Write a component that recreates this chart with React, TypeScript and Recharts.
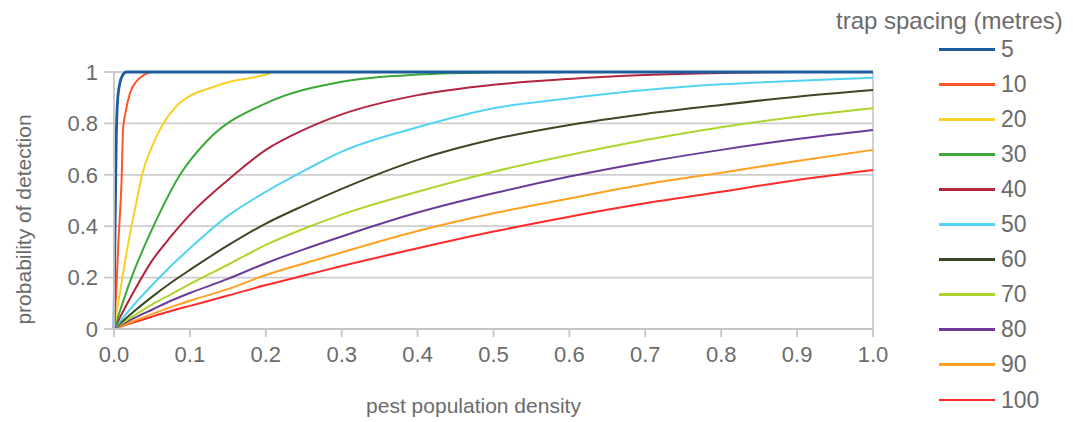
import { LineChart, Line, XAxis, YAxis, CartesianGrid, ReferenceLine } from "recharts";

// trap spacing in metres, legend order
const spacings = ["5", "10", "20", "30", "40", "50", "60", "70", "80", "90", "100"];

// pest population density (x) for each curve
const x5 = [0, 0.001, 0.003, 0.005, 0.008, 0.012, 0.016, 1.0];
const p5 = [0, 0.3, 0.75, 0.9, 0.96, 0.99, 1, 1];

const x10 = [0, 0.003, 0.006, 0.01, 0.012, 0.015, 0.021, 0.03, 0.04, 0.052, 1.0];
const p10 = [0, 0.15, 0.35, 0.58, 0.78, 0.84, 0.917, 0.965, 0.99, 1, 1];

const x20 = [0, 0.005, 0.011, 0.023, 0.03, 0.037, 0.05, 0.065, 0.08, 0.1, 0.126, 0.15, 0.2, 0.21, 1.0];
const p20 = [0, 0.09, 0.2, 0.4, 0.5, 0.6, 0.71, 0.8, 0.86, 0.907, 0.937, 0.96, 0.99, 1, 1];

const x30 = [0, 0.023, 0.052, 0.087, 0.126, 0.2, 0.3, 0.4, 0.5, 0.6, 1.0];
const p30 = [0, 0.2, 0.4, 0.6, 0.742, 0.878, 0.962, 0.99, 0.998, 1, 1];

// slower curves share one x grid
const xWide = [0, 0.025, 0.05, 0.075, 0.1, 0.15, 0.2, 0.25, 0.3, 0.4, 0.5, 0.6, 0.7, 0.8, 0.9, 1.0];
const p40 = [0, 0.14, 0.265, 0.36, 0.445, 0.58, 0.697, 0.775, 0.835, 0.91, 0.95, 0.973, 0.988, 0.996, 1, 1];
const p50 = [0, 0.09, 0.17, 0.245, 0.314, 0.44, 0.534, 0.615, 0.69, 0.785, 0.859, 0.898, 0.93, 0.952, 0.966, 0.978];
const p60 = [0, 0.065, 0.125, 0.18, 0.23, 0.325, 0.41, 0.48, 0.545, 0.658, 0.738, 0.794, 0.837, 0.872, 0.904, 0.93];
const p70 = [0, 0.05, 0.095, 0.135, 0.175, 0.25, 0.327, 0.39, 0.445, 0.534, 0.612, 0.677, 0.735, 0.785, 0.826, 0.859];
const p80 = [0, 0.04, 0.075, 0.11, 0.14, 0.195, 0.256, 0.31, 0.36, 0.453, 0.528, 0.593, 0.649, 0.697, 0.739, 0.774];
const p90 = [0, 0.03, 0.058, 0.085, 0.11, 0.155, 0.21, 0.255, 0.298, 0.381, 0.45, 0.508, 0.563, 0.608, 0.654, 0.697];
const p100 = [0, 0.025, 0.048, 0.07, 0.09, 0.13, 0.171, 0.208, 0.245, 0.314, 0.379, 0.437, 0.489, 0.534, 0.58, 0.619];

const xTicks = [0, 0.1, 0.2, 0.3, 0.4, 0.5, 0.6, 0.7, 0.8, 0.9, 1.0];
const yTicks = [0, 0.2, 0.4, 0.6, 0.8, 1];

const lineColors = [
  "#1f5c9e", "#ff5526", "#f7d126", "#3aa935", "#b3243f", "#52d3f2",
  "#3a4826", "#add52c", "#6a3c98", "#ffa11f", "#ff2b2b",
];

const xs = [x5, x10, x20, x30, xWide, xWide, xWide, xWide, xWide, xWide, xWide];
const ps = [p5, p10, p20, p30, p40, p50, p60, p70, p80, p90, p100];

// one table: every x that any curve was read at, with that curve's value where it has one
const allX = Array.from(new Set(xs.flat())).sort((a, b) => a - b);
const rows = allX.map((x) => {
  const row: Record<string, number> = { x };
  spacings.forEach((name, i) => {
    const j = xs[i].indexOf(x);
    if (j >= 0) row["s" + name] = ps[i][j];
  });
  return row;
});

const FONT = "'Liberation Sans', Arial, sans-serif";
const TEXT = "#6b6b6b";

function TrapLegend() {
  return (
    <div style={{ position: "absolute", left: 0, top: 0, width: 1073, height: 422, fontFamily: FONT, color: TEXT, pointerEvents: "none" }}>
      <div style={{ position: "absolute", left: 836, top: 7, fontSize: 24, whiteSpace: "nowrap" }}>
        trap spacing (metres)
      </div>
      {spacings.map((name, i) => (
        <div key={name} style={{ position: "absolute", left: 939, top: 36 + i * 35.1, height: 26, display: "flex", alignItems: "center" }}>
          <span style={{ display: "inline-block", width: 56, height: name === "100" ? 2 : 3, background: lineColors[i] }} />
          <span style={{ marginLeft: 6, fontSize: 23 }}>{name}</span>
        </div>
      ))}
    </div>
  );
}

function YTitle(props: any) {
  const { viewBox } = props;
  const cx = 23;
  const cy = viewBox.y + viewBox.height / 2 + 19;
  return (
    <text x={cx} y={cy} transform={`rotate(-90, ${cx}, ${cy})`} textAnchor="middle" dominantBaseline="central"
      fill={TEXT} fontSize={21} fontFamily={FONT}>
      probability of detection
    </text>
  );
}

export default function App() {
  return (
    <div style={{ position: "absolute", left: 0, top: 0, width: 1073, height: 422, background: "#fff" }}>
      <LineChart width={1073} height={422} data={rows} margin={{ top: 72, right: 200, bottom: 0, left: 0 }}>
        <CartesianGrid vertical={false} stroke="#cdcdcd" strokeWidth={1.8} />
        <XAxis
          dataKey="x" type="number" domain={[0, 1]} ticks={xTicks} height={93}
          tickFormatter={(v: number) => v.toFixed(1)}
          tick={{ fill: TEXT, fontSize: 22, fontFamily: FONT }}
          tickSize={8} tickMargin={9}
          stroke="#c4c4c4" strokeWidth={1.8}
          label={{ value: "pest population density", position: "insideBottom", offset: 9, dx: -20, fill: TEXT, fontSize: 21, fontFamily: FONT }}
        />
        <YAxis
          type="number" domain={[0, 1]} ticks={yTicks} width={114}
          tick={{ fill: TEXT, fontSize: 22, fontFamily: FONT }}
          tickSize={10} tickMargin={6}
          stroke="#c8c8c8" strokeWidth={1.8}
          label={<YTitle />}
        />
        <ReferenceLine x={1} stroke="#cdcdcd" strokeWidth={1.8} />
        {[...spacings].reverse().map((name) => {
          const i = spacings.indexOf(name);
          return (
            <Line
              key={name} dataKey={"s" + name} name={name} connectNulls
              type="monotone" stroke={lineColors[i]} strokeWidth={name === "5" ? 2.8 : 2}
              dot={false} activeDot={false} isAnimationActive={false}
            />
          );
        })}
      </LineChart>
      <TrapLegend />
    </div>
  );
}
